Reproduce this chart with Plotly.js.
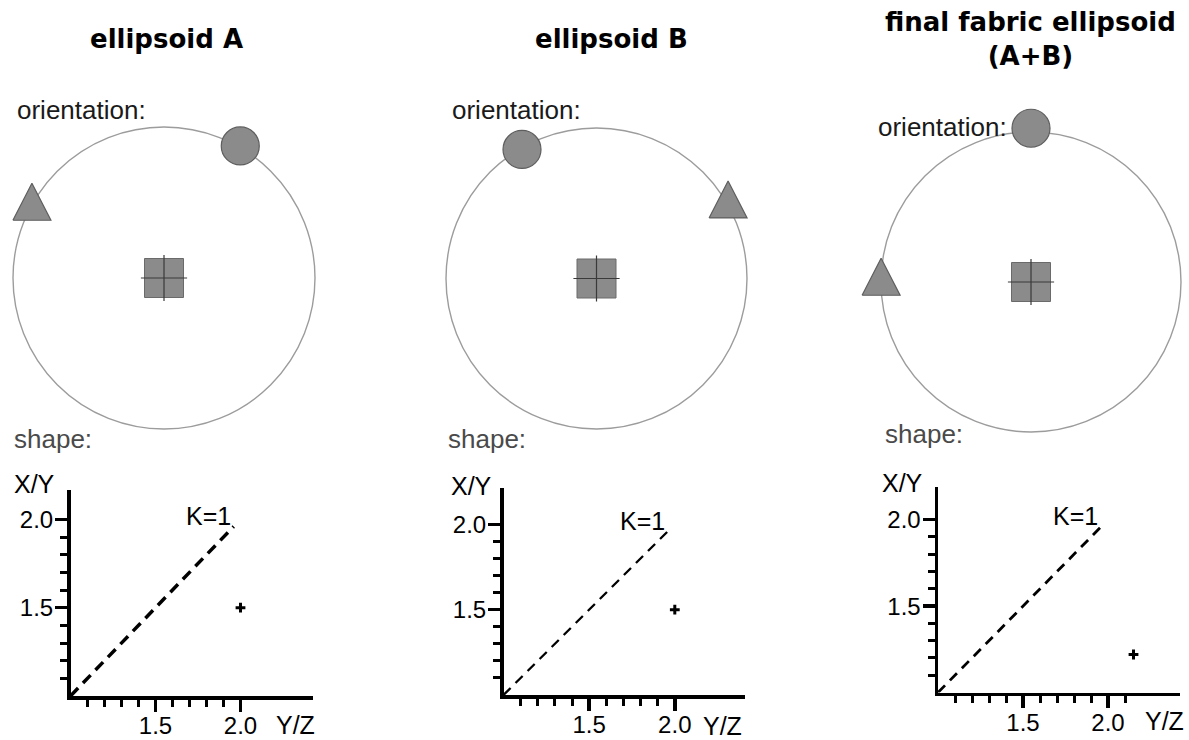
<!DOCTYPE html>
<html>
<head>
<meta charset="utf-8">
<script src="https://cdn.plot.ly/plotly-3.0.1.min.js"></script>
<style>html,body{margin:0;padding:0;background:#fff;}#chart{width:1189px;height:740px;}</style>
</head>
<body>
<div id="chart"></div>
<script>
// ---------------- data ----------------
const panels = ['A', 'B', 'C'];
const titles = ['ellipsoid A', 'ellipsoid B', 'final fabric ellipsoid<br>(A+B)'];
// stereonet orientation of the three ellipsoid axes (trend in degrees, projected radius)
const circleTrend = [30, 330, 0];
const circleRadius = [1.01, 0.99, 1.025];
const triangleTrend = [300, 59, 272];
const triangleRadius = [1.01, 1.02, 1.0];
const squareTrend = [0, 0, 0];
const squareRadius = [0, 0, 0];
// shape (Flinn diagram): Y/Z on x, X/Y on y
const shapeYZ = [2.0, 2.0, 2.15];
const shapeXY = [1.5, 1.5, 1.22];
const kLineYZ = [1.0, 1.96];
const kLineXY = [1.0, 1.96];
const kLabel = 'K=1';
const majorTicks = [1.5, 2.0];
const majorTickLabels = ['1.5', '2.0'];
const xMinorTicks = [
  [1.1, 1.2, 1.3, 1.4, 1.6, 1.7, 1.8, 1.9],
  [1.1, 1.2, 1.3, 1.4, 1.6, 1.7, 1.8, 1.9],
  [1.1, 1.2, 1.3, 1.4, 1.6, 1.7, 1.8, 1.9, 2.1]
];
const yMinorTicks = [1.1, 1.2, 1.3, 1.4, 1.6, 1.7, 1.8, 1.9];

// ---------------- layout geometry (pixels) ----------------
const W = 1189, H = 740;
const netCenter = [[164, 278], [596.5, 278.5], [1031, 282]];
const netR = [151, 150.5, 150];
const shapeGeom = [
  {ox: 70.5, oy: 696, sx: 170, sy: 176.6, xEnd: 313, yTop: 490, dashW: 3.5, dash: '11px,7px'},
  {ox: 503.5, oy: 695, sx: 171.3, sy: 170.7, xEnd: 745, yTop: 488, dashW: 2.3, dash: '10px,7px'},
  {ox: 938, oy: 692.5, sx: 170, sy: 172.8, xEnd: 1180, yTop: 487, dashW: 2.8, dash: '10px,7px'}
];
const titleX = [166, 611, 1030];
const oriLabelPos = [[15, 110], [450, 110], [876, 127.5]];
const shapeLabelPos = [[12, 438.5], [446, 439], [883, 434]];
const xyLabelPos = [[34.5, 483.5], [471, 486], [902, 483]];
const yzLabelPos = [[295, 725], [722, 726], [1164, 721]];

const fillGray = '#8b8b8b', edgeGray = '#5e5e5e';
const px = v => v / W, py = v => 1 - v / H;

const traces = [];
const layout = {
  width: W, height: H,
  margin: {l: 0, r: 0, t: 0, b: 0},
  paper_bgcolor: '#ffffff', plot_bgcolor: 'rgba(0,0,0,0)',
  showlegend: false,
  font: {family: 'Liberation Sans, Arial, sans-serif', color: '#000', size: 24},
  shapes: [], annotations: []
};

panels.forEach((p, i) => {
  const n = i + 1;          // stereonet axes
  const m = i + 4;          // shape axes
  const [cx, cy] = netCenter[i];
  const R = netR[i];
  const ext = 1.2;
  const x0 = Math.max(0, cx - ext * R), x1 = Math.min(W, cx + ext * R);
  const y0 = Math.min(H, cy + ext * R), y1 = Math.max(0, cy - ext * R);
  layout['xaxis' + n] = {domain: [px(x0), px(x1)], range: [(x0 - cx) / R, (x1 - cx) / R], visible: false, fixedrange: true, anchor: 'y' + n};
  layout['yaxis' + n] = {domain: [py(y0), py(y1)], range: [(cy - y0) / R, (cy - y1) / R], visible: false, fixedrange: true, anchor: 'x' + n};
  const xa = 'x' + n, ya = 'y' + n;

  // primitive circle
  layout.shapes.push({type: 'circle', xref: xa, yref: ya, x0: -1, x1: 1, y0: -1, y1: 1,
    line: {color: '#9c9c9c', width: 1.4}, layer: 'below'});

  const toXY = (t, r) => [r * Math.sin(t * Math.PI / 180), r * Math.cos(t * Math.PI / 180)];

  // square (with thin cross)
  const [sqx, sqy] = toXY(squareTrend[i], squareRadius[i]);
  traces.push({type: 'scatter', mode: 'markers', x: [sqx], y: [sqy], xaxis: xa, yaxis: ya, cliponaxis: false,
    marker: {symbol: 'square', size: 39, color: fillGray, line: {color: '#6a6a6a', width: 1}}, hoverinfo: 'skip'});
  traces.push({type: 'scatter', mode: 'markers', x: [sqx], y: [sqy], xaxis: xa, yaxis: ya, cliponaxis: false,
    marker: {symbol: 'cross-thin', size: 33, color: '#3a3a3a', line: {color: '#3a3a3a', width: 1.2}}, hoverinfo: 'skip'});

  // circle marker
  const [cxm, cym] = toXY(circleTrend[i], circleRadius[i]);
  traces.push({type: 'scatter', mode: 'markers', x: [cxm], y: [cym], xaxis: xa, yaxis: ya, cliponaxis: false,
    marker: {symbol: 'circle', size: 38, color: fillGray, line: {color: edgeGray, width: 1.2}}, hoverinfo: 'skip'});

  // triangle marker (equilateral-looking polygon around the data point)
  const [tx, ty] = toXY(triangleTrend[i], triangleRadius[i]);
  const tw = 38 / R, th = 37 / R;
  traces.push({type: 'scatter', mode: 'lines', fill: 'toself', fillcolor: fillGray,
    x: [tx - tw / 2, tx + tw / 2, tx, tx - tw / 2], y: [ty - th / 2, ty - th / 2, ty + th / 2, ty - th / 2],
    xaxis: xa, yaxis: ya, line: {color: edgeGray, width: 1.2}, hoverinfo: 'skip'});

  // shape diagram axes
  const g = shapeGeom[i];
  const xr = [1, 1 + (g.xEnd - g.ox) / g.sx];
  const yr = [1, 1 + (g.oy - g.yTop) / g.sy];
  const common = {
    showline: true, linecolor: '#000', linewidth: 3.5, showgrid: false, zeroline: false,
    ticks: 'outside', ticklen: 12, tickwidth: 3.5, tickcolor: '#000', fixedrange: true,
    tickmode: 'array', tickvals: majorTicks, ticktext: majorTickLabels,
    tickfont: {family: 'Liberation Sans, Arial, sans-serif', size: 24, color: '#000'}
  };
  layout['xaxis' + m] = Object.assign({}, common, {
    domain: [px(g.ox), px(g.xEnd)], range: xr, anchor: 'y' + m, ticklabelstandoff: -6,
    minor: {tickmode: 'array', tickvals: xMinorTicks[i], ticks: 'outside', ticklen: 7, tickwidth: 3, tickcolor: '#000'}
  });
  layout['yaxis' + m] = Object.assign({}, common, {
    domain: [py(g.oy), py(g.yTop)], range: yr, anchor: 'x' + m, ticklabelstandoff: -3,
    minor: {tickmode: 'array', tickvals: yMinorTicks, ticks: 'outside', ticklen: 7, tickwidth: 3, tickcolor: '#000'}
  });
  const xs = 'x' + m, ys = 'y' + m;
  traces.push({type: 'scatter', mode: 'lines', x: kLineYZ, y: kLineXY, xaxis: xs, yaxis: ys,
    line: {color: '#000', width: g.dashW, dash: g.dash}, hoverinfo: 'skip'});
  traces.push({type: 'scatter', mode: 'markers', x: [shapeYZ[i]], y: [shapeXY[i]], xaxis: xs, yaxis: ys, cliponaxis: false,
    marker: {symbol: 'cross-thin', size: 7, color: '#000', line: {color: '#000', width: 3}}, hoverinfo: 'skip'});

  layout.annotations.push({xref: xs, yref: ys, x: 1.81, y: 2.02, text: kLabel, showarrow: false,
    xanchor: 'center', yanchor: 'middle', font: {size: 25, color: '#000'}});

  // texts
  layout.annotations.push({xref: 'paper', yref: 'paper', x: px(titleX[i]), y: py(39), text: titles[i], showarrow: false,
    xanchor: 'center', yanchor: 'middle', align: 'center',
    font: {family: 'DejaVu Sans, sans-serif', size: 26, color: '#000', weight: 'bold'}});
  layout.annotations.push({xref: 'paper', yref: 'paper', x: px(oriLabelPos[i][0]), y: py(oriLabelPos[i][1]), text: 'orientation:',
    showarrow: false, xanchor: 'left', yanchor: 'middle', font: {size: 26, color: '#1a1a1a'}});
  layout.annotations.push({xref: 'paper', yref: 'paper', x: px(shapeLabelPos[i][0]), y: py(shapeLabelPos[i][1]), text: 'shape:',
    showarrow: false, xanchor: 'left', yanchor: 'middle', font: {size: 26, color: '#4a4a4a'}});
  layout.annotations.push({xref: 'paper', yref: 'paper', x: px(xyLabelPos[i][0]), y: py(xyLabelPos[i][1]), text: 'X/Y',
    showarrow: false, xanchor: 'center', yanchor: 'middle', font: {size: 25, color: '#000'}});
  layout.annotations.push({xref: 'paper', yref: 'paper', x: px(yzLabelPos[i][0]), y: py(yzLabelPos[i][1]), text: 'Y/Z',
    showarrow: false, xanchor: 'center', yanchor: 'middle', font: {size: 25, color: '#000'}});
});

Plotly.newPlot('chart', traces, layout, {staticPlot: true, displayModeBar: false});
</script>
</body>
</html>
